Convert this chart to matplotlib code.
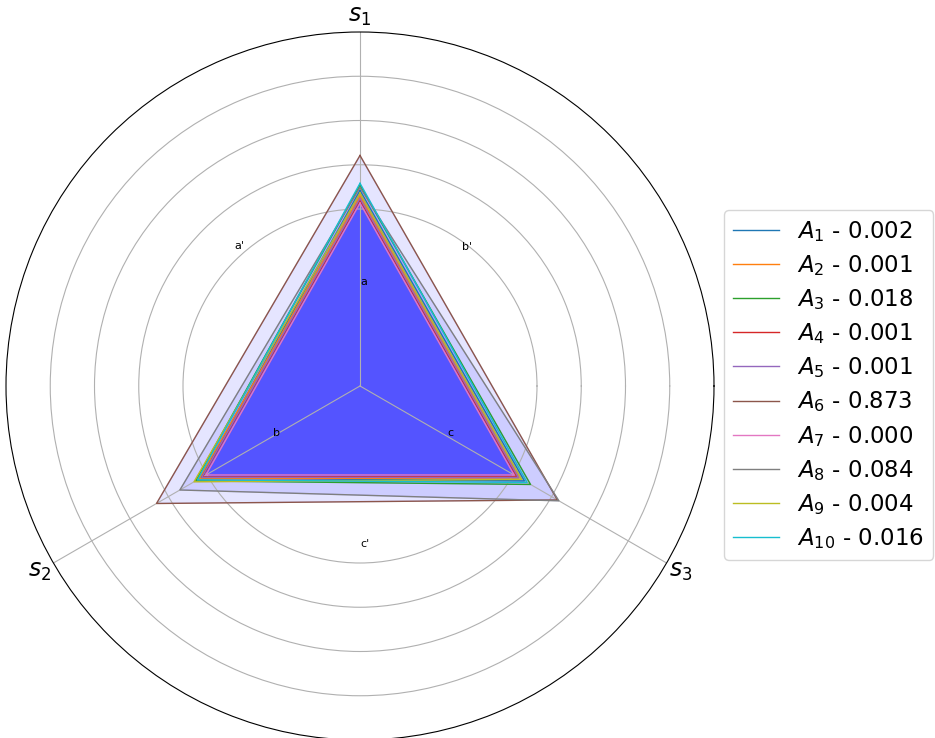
import numpy as np
import matplotlib
matplotlib.use("Agg")
import matplotlib.pyplot as plt

# Radar axes and series
axis_labels = [r"$s_1$", r"$s_2$", r"$s_3$"]
series_names = ["A1", "A2", "A3", "A4", "A5", "A6", "A7", "A8", "A9", "A10"]
weights = [0.002, 0.001, 0.018, 0.001, 0.001, 0.873, 0.000, 0.084, 0.004, 0.016]

# Scores on s1, s2, s3 for each alternative
A1 = [4.42, 4.15, 4.29]
A2 = [4.29, 4.20, 4.15]
A3 = [4.54, 4.29, 4.45]
A4 = [4.20, 4.11, 4.09]
A5 = [4.24, 4.13, 4.13]
A6 = [5.21, 5.31, 5.15]
A7 = [4.13, 4.02, 4.02]
A8 = [4.49, 4.70, 5.19]
A9 = [4.36, 4.33, 4.22]
A10 = [4.58, 4.24, 4.36]
scores = [A1, A2, A3, A4, A5, A6, A7, A8, A9, A10]

r_grid = [4, 5, 6, 7]
r_max = 8

# Annotation letters (angle in degrees, radius)
inner_marks = [("a", 90, 2.28), ("b", 210, 2.28), ("c", 330, 2.28)]
outer_marks = [("a'", 132.6, 4.2), ("b'", 53, 3.84), ("c'", 270, 3.63)]

angles = np.deg2rad([90, 210, 330])
closed = np.append(angles, angles[0])

fig = plt.figure(figsize=(9.35, 7.38), dpi=100)
ax = fig.add_axes([6 / 935, -2 / 738, 708 / 935, 708 / 738], projection="polar")

for i, (name, w, vals) in enumerate(zip(series_names, weights, scores)):
    v = np.append(vals, vals[0])
    label = r"$A_{%s}$ - %.3f" % (name[1:], w)
    ax.plot(closed, v, color=f"C{i}", linewidth=1, label=label)
    ax.fill(closed, v, color="b", alpha=0.1)

ax.set_ylim(0, r_max)
ax.set_rgrids(r_grid, labels=[""] * len(r_grid))
ax.yaxis.set_tick_params(size=0)
ax.set_thetagrids(np.rad2deg(angles), labels=axis_labels, fontsize=17)
ax.tick_params(axis="x", pad=1)
ax.grid(color="#b0b0b0", linewidth=0.8)
ax.spines["polar"].set_linewidth(0.8)

for txt, ang, r in inner_marks + outer_marks:
    ax.text(np.deg2rad(ang), r, txt, fontsize=8, ha="left", va="baseline")

fig.legend(loc="center left", bbox_to_anchor=(724 / 935, 1 - 385 / 738),
           bbox_transform=fig.transFigure, borderaxespad=0, fontsize=16.5,
           handlelength=2.0, labelspacing=0.4)

fig.savefig("out.png", dpi=100)
